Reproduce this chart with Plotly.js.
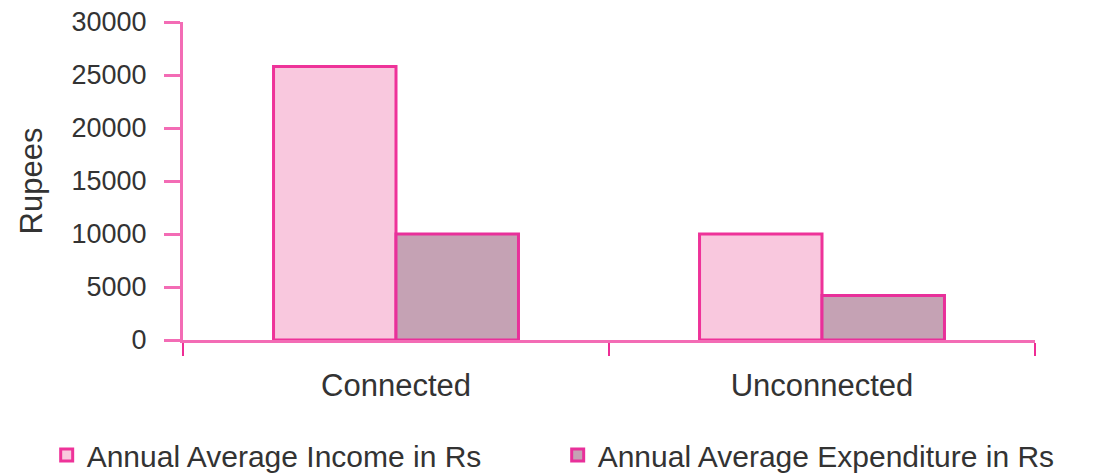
<!DOCTYPE html>
<html>
<head>
<meta charset="utf-8">
<script src="https://cdn.plot.ly/plotly-3.0.1.min.js"></script>
<style>html,body{margin:0;padding:0;background:#fff;}#chart{width:1109px;height:475px;}</style>
</head>
<body>
<div id="chart"></div>
<script>
const categories = ['Connected', 'Unconnected'];
const incomeValues = [25800, 10000];
const expenditureValues = [10000, 4200];
const seriesNames = ['Annual Average Income in Rs', 'Annual Average Expenditure in Rs'];
const yTickValues = [0, 5000, 10000, 15000, 20000, 25000, 30000];
const yTickLabels = ['0', '5000', '10000', '15000', '20000', '25000', '30000'];

const FONT = '"Liberation Sans", Arial, sans-serif';
const PINK = '#f36cb5';

const traces = [
  {
    type: 'bar', name: seriesNames[0], x: categories, y: incomeValues,
    marker: {color: '#f9c8de', line: {color: '#ee3399', width: 3}}
  },
  {
    type: 'bar', name: seriesNames[1], x: categories, y: expenditureValues,
    marker: {color: '#c5a2b4', line: {color: '#e8309a', width: 3}}
  }
];

const layout = {
  width: 1109, height: 475,
  margin: {l: 183, r: 74, t: 22, b: 135, autoexpand: false},
  paper_bgcolor: '#fff', plot_bgcolor: '#fff',
  barmode: 'group', bargap: 0.425, bargroupgap: 0,
  font: {family: FONT, color: '#333', size: 30},
  showlegend: true,
  legend: {
    orientation: 'h', xref: 'paper', yref: 'paper',
    x: -0.160, y: -0.362, xanchor: 'left', yanchor: 'middle',
    font: {family: FONT, size: 30, color: '#333'},
    entrywidth: 466, entrywidthmode: 'pixels', tracegroupgap: 0
  },
  xaxis: {
    range: [-0.5, 1.5], showline: true, linecolor: PINK, linewidth: 3,
    ticks: 'outside', tickson: 'boundaries', ticklen: 13, tickwidth: 2, tickcolor: '#ee2d95',
    showgrid: false, zeroline: false, ticklabelstandoff: 16, automargin: false,
    tickfont: {family: FONT, size: 31, color: '#333'}
  },
  yaxis: {
    range: [0, 30000], tickvals: yTickValues, ticktext: yTickLabels,
    showline: true, linecolor: PINK, linewidth: 3,
    ticks: 'outside', ticklen: 16, tickwidth: 3, tickcolor: PINK,
    showgrid: false, zeroline: false, ticklabelstandoff: 12, automargin: false,
    tickfont: {family: FONT, size: 27, color: '#333'},
    title: {text: 'Rupees', font: {family: FONT, size: 31, color: '#333'}, standoff: 20}
  }
};

Plotly.newPlot('chart', traces, layout, {staticPlot: true, displayModeBar: false});
</script>
</body>
</html>
